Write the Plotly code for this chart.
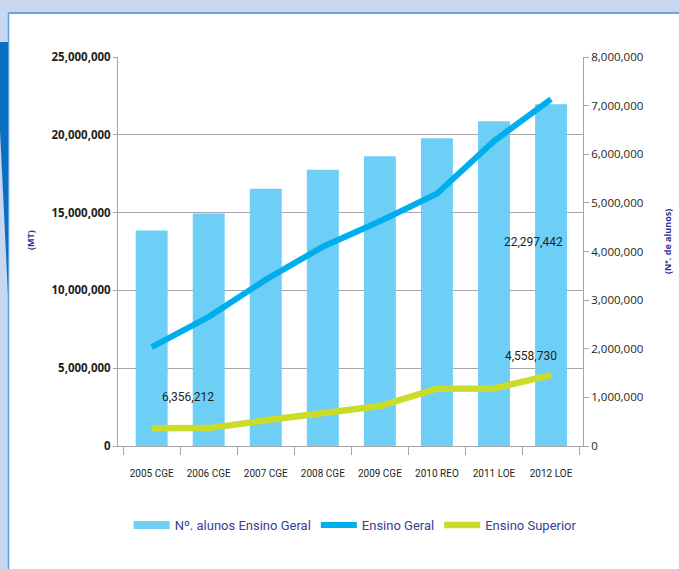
import plotly.graph_objects as go

# ---- data ----
categories = ["2005 CGE", "2006 CGE", "2007 CGE", "2008 CGE",
              "2009 CGE", "2010 REO", "2011 LOE", "2012 LOE"]
alunos_ensino_geral = [4430000, 4780000, 5290000, 5680000,
                       5960000, 6330000, 6680000, 7030000]
ensino_geral_mt = [6356212, 8300000, 10690000, 12810000,
                   14440000, 16220000, 19600000, 22297442]
ensino_superior_mt = [1140000, 1150000, 1650000, 2100000,
                      2570000, 3680000, 3700000, 4558730]
left_ticks = [0, 5000000, 10000000, 15000000, 20000000, 25000000]
right_ticks = [0, 1000000, 2000000, 3000000, 4000000,
               5000000, 6000000, 7000000, 8000000]

BAR_COLOR = "#6dcff6"
GERAL_COLOR = "#00aeef"
SUPERIOR_COLOR = "#cbdb2a"
TITLE_BLUE = "#2e3192"
LEGEND_BLUE = "#3a3d96"
AXIS_GREY = "#a6a6a6"
NARROW = "Liberation Sans Narrow, Roboto, Arial, sans-serif"

W, H = 679, 569
L, R, T, B = 118, 583, 57, 446  # plot area in pixels


def px(x):
    return (x - L) / (R - L)


def py(y):
    return (B - y) / (B - T)


fig = go.Figure()

# bars: number of students (right axis)
fig.add_trace(go.Bar(
    x=categories, y=alunos_ensino_geral, yaxis="y",
    marker=dict(color=BAR_COLOR, line=dict(width=0)),
    width=0.56, showlegend=False, name="Nº. alunos Ensino Geral",
))
# legend entry for the bars drawn as a wide swatch
fig.add_trace(go.Scatter(
    x=[None], y=[None], mode="lines", yaxis="y",
    line=dict(color=BAR_COLOR, width=8),
    name="Nº. alunos Ensino Geral",
))
# lines: expenditure in MT (left axis)
fig.add_trace(go.Scatter(
    x=categories, y=ensino_geral_mt, yaxis="y2", mode="lines",
    line=dict(color=GERAL_COLOR, width=6), name="Ensino Geral",
))
fig.add_trace(go.Scatter(
    x=categories, y=ensino_superior_mt, yaxis="y2", mode="lines",
    line=dict(color=SUPERIOR_COLOR, width=6.5), name="Ensino Superior",
))

# value labels
label_specs = [
    (categories[0], ensino_geral_mt[0], 36, -50),
    (categories[-1], ensino_geral_mt[-1], -18, -143),
    (categories[-1], ensino_superior_mt[-1], -20, 19),
]
annotations = []
for cx, val, dx, dy in label_specs:
    annotations.append(dict(
        x=cx, y=val, xref="x", yref="y2", text=f"{val:,}",
        showarrow=False, xshift=dx, yshift=dy,
        font=dict(family=NARROW, size=12, color="#231f20"),
    ))

# axis titles
annotations.append(dict(
    x=px(30), y=py(240), xref="paper", yref="paper", text="<b>(MT)</b>",
    textangle=-90, showarrow=False, xanchor="center", yanchor="middle",
    font=dict(family="Open Sans, sans-serif", size=9, color=TITLE_BLUE),
))
annotations.append(dict(
    x=px(667), y=py(242), xref="paper", yref="paper",
    text="<b>(Nº. de alunos)</b>", textangle=-90, showarrow=False,
    xanchor="center", yanchor="middle",
    font=dict(family="Open Sans, sans-serif", size=9, color=TITLE_BLUE),
))

# page frame: white panel with blue edges and a dark blue tab on the left
shapes = [
    dict(type="rect", xref="paper", yref="paper", layer="below",
         x0=px(8.5), x1=px(W + 2), y0=py(H + 2), y1=py(13),
         fillcolor="white", line=dict(width=0)),
    dict(type="line", xref="paper", yref="paper", layer="below",
         x0=px(8.5), x1=px(W + 2), y0=py(13), y1=py(13),
         line=dict(color="#3f8fda", width=1.5)),
    dict(type="line", xref="paper", yref="paper", layer="below",
         x0=px(8.5), x1=px(8.5), y0=py(13), y1=py(H + 2),
         line=dict(color="#5aa0e2", width=1.5)),
    dict(type="path", xref="paper", yref="paper", layer="below",
         path=(f"M {px(-1)} {py(42)} L {px(8)} {py(42)} "
               f"L {px(8)} {py(295)} L {px(-1)} {py(110)} Z"),
         fillcolor="#0a6fc0", line=dict(width=0)),
]

fig.update_layout(
    width=W, height=H,
    margin=dict(l=L, r=W - R, t=T, b=H - B, pad=0),
    paper_bgcolor="#c8d6ef", plot_bgcolor="white",
    bargap=0.44,
    xaxis=dict(
        type="category", categoryorder="array", categoryarray=categories,
        range=[-0.59, 7.56], tickson="boundaries",
        ticks="outside", ticklen=8, tickcolor=AXIS_GREY,
        showline=True, linecolor=AXIS_GREY, linewidth=1,
        showgrid=False, ticklabelstandoff=18, tickangle=0,
        tickfont=dict(family=NARROW, size=10, color="#231f20"),
    ),
    yaxis=dict(
        side="right", range=[0, 8000000], tickvals=right_ticks,
        tickformat=",d", showgrid=False, zeroline=False,
        showline=True, linecolor=AXIS_GREY, linewidth=1,
        ticks="outside", ticklen=5, tickcolor=AXIS_GREY,
        tickfont=dict(family="Open Sans, sans-serif", size=11.5, color="#231f20"),
    ),
    yaxis2=dict(
        side="left", overlaying="y", range=[0, 25000000],
        tickvals=left_ticks, tickformat=",d",
        showgrid=True, gridcolor=AXIS_GREY, gridwidth=1, zeroline=False,
        showline=True, linecolor=AXIS_GREY, linewidth=1,
        ticks="outside", ticklen=4, tickcolor=AXIS_GREY,
        tickfont=dict(family="Open Sans, sans-serif", size=11.5,
                      color="#231f20", weight="bold"),
    ),
    legend=dict(
        orientation="h", x=0.51, xanchor="center", y=py(525), yanchor="middle",
        font=dict(family=NARROW, size=13, color=LEGEND_BLUE),
        bgcolor="rgba(0,0,0,0)", itemwidth=36, traceorder="normal",
    ),
    annotations=annotations,
    shapes=shapes,
)

fig.write_html("out.html")
